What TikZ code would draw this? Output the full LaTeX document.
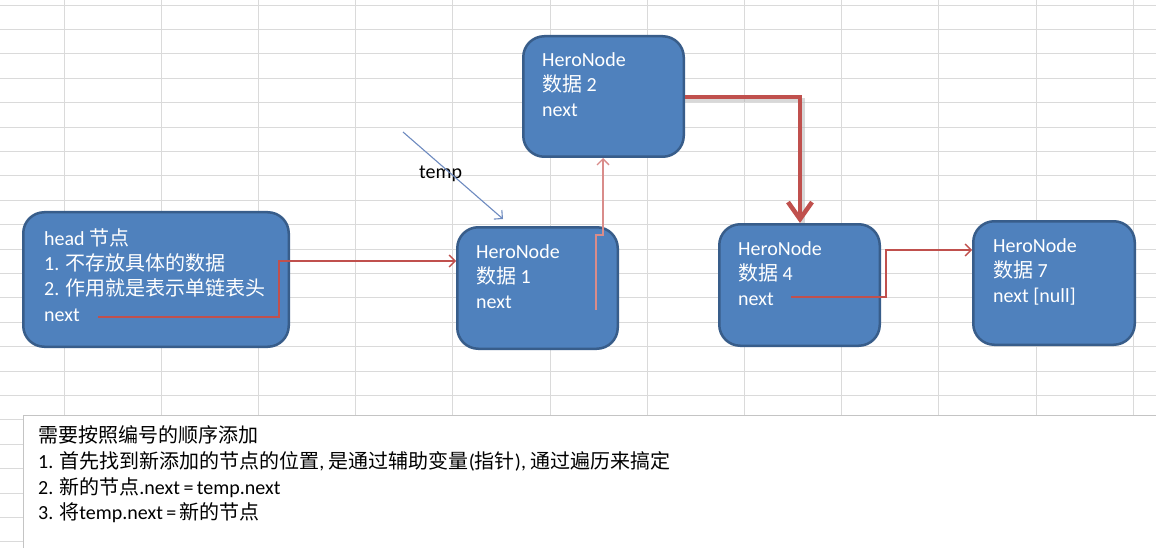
\documentclass[tikz,border=0pt]{standalone}
\usepackage{fontspec}
\setmainfont{Carlito}
\newfontfamily\cjk{Noto Sans CJK SC}
\usetikzlibrary{arrows.meta}
\definecolor{nodeblue}{HTML}{4F81BD}
\definecolor{nodeborder}{HTML}{385D8A}
\definecolor{linkred}{HTML}{C0504D}
\definecolor{linkpink}{HTML}{D98C8A}
\definecolor{gridgray}{HTML}{DADADA}
\definecolor{tempblue}{HTML}{6E8BC0}
\definecolor{boxgray}{HTML}{C4C4C4}
\newcommand{\eqsp}{\hspace{3.5pt}=\hspace{3.5pt}}
\begin{document}
\begin{tikzpicture}[x=1pt,y=-1pt,
  gridline/.style={draw=gridgray, line width=0.9pt},
  herobox/.style={draw=nodeborder, fill=nodeblue, line width=2.5pt, rounded corners=21pt, inner sep=0pt},
  ntext/.style={anchor=base west, inner sep=0pt, text=white, font=\fontsize{20}{25}\selectfont},
  btext/.style={anchor=base west, inner sep=0pt, text=black, font=\fontsize{20}{25}\selectfont},
  thinlink/.style={draw=linkred, line width=1.3pt, -{Straight Barb[length=6pt,width=12pt]}},
  pinklink/.style={draw=linkpink, line width=1.3pt, -{Straight Barb[length=6pt,width=12pt]}},
  thicklink/.style={draw=linkred, line width=4.5pt, line join=miter, -{Straight Barb[length=17pt,width=24pt]}},
  shadowline/.style={draw=black!30, opacity=0.5, line width=4.5pt, line join=miter},
  templink/.style={draw=tempblue, line width=1.1pt, -{Straight Barb[length=6pt,width=12pt]}},
  notebox/.style={draw=boxgray, fill=white, line width=1.2pt, inner sep=0pt, anchor=north west}
]
\useasboundingbox (0,0) rectangle (1156,548);
\fill[white] (0,0) rectangle (1156,548);
% spreadsheet grid
\foreach \k in {0,...,22} \draw[gridline] (0,{5+24.4*\k}) -- (1156,{5+24.4*\k});
\foreach \k in {0,...,11} \draw[gridline] ({64+97.2*\k},0) -- ({64+97.2*\k},548);
% note box at the bottom
\node[notebox, minimum width=1160pt, minimum height=160pt] (note) at (23,415) {};
% boxes
\node[herobox, minimum width=265.5pt, minimum height=134.5pt] (head) at (156,279.5) {};
\node[herobox, minimum width=160.5pt, minimum height=121.5pt] (n1) at (537.5,288) {};
\node[herobox, minimum width=160.5pt, minimum height=120.5pt] (n2) at (603.5,96.5) {};
\node[herobox, minimum width=160.5pt, minimum height=121.5pt] (n4) at (799.5,285) {};
\node[herobox, minimum width=161.5pt, minimum height=123.5pt] (n7) at (1054,283) {};
% texts of the head box
\node[ntext] (ht1) at (44,245) {head {\cjk 节点}};
\node[ntext] (ht2) at (44,270.3) {1. {\cjk 不存放具体的数据}};
\node[ntext] (ht3) at (44,295.6) {2. {\cjk 作用就是表示单链表头}};
\node[ntext] (ht4) at (44,321) {next};
% node 1
\node[ntext] (a1) at (476,258) {HeroNode};
\node[ntext] (a2) at (476,283) {{\cjk 数据} 1};
\node[ntext] (a3) at (476,308) {next};
% node 2
\node[ntext] (b1) at (542,67) {HeroNode};
\node[ntext] (b2) at (542,92) {{\cjk 数据} 2};
\node[ntext] (b3) at (542,117) {next};
% node 4
\node[ntext] (c1) at (738,255) {HeroNode};
\node[ntext] (c2) at (738,280) {{\cjk 数据} 4};
\node[ntext] (c3) at (738,305) {next};
% node 7
\node[ntext] (d1) at (993,252) {HeroNode};
\node[ntext] (d2) at (993,277) {{\cjk 数据} 7};
\node[ntext] (d3) at (993,302) {next [null]};
% temp label
\node[btext] (templabel) at (419,179) {temp};
% note texts
\node[btext] (l1) at (38,442) {{\cjk 需要按照编号的顺序添加}};
\node[btext] (l2) at (38,468) {1. {\cjk 首先找到新添加的节点的位置}, {\cjk 是通过辅助变量}({\cjk 指针}), {\cjk 通过遍历来搞定}};
\node[btext] (l3) at (38,494) {2. {\cjk 新的节点}.next\eqsp temp.next};
\node[btext] (l4) at (38,519) {3. {\cjk 将}temp.next\eqsp{\cjk 新的节点}};
% connectors
\coordinate (hs) at (98,317);
\coordinate (hb) at (279,261);
\draw[thinlink] (hs) -| (hb) -- (hb -| n1.west);
\coordinate (s1) at (596,310);
\coordinate (k1) at (596,235);
\coordinate (k2) at (603,235);
\draw[pinklink] (s1) -- (k1) -- (k2) -- (k2 |- n2.south);
\coordinate (k3) at (800,97);
\draw[shadowline] ([shift={(0,3)}]n2.east |- k3) -- ([shift={(3,3)}]k3) -- ([shift={(3,0)}]k3 |- n4.north) ;
\draw[thicklink] (n2.east |- k3) -- (k3) -- (k3 |- n4.north);
\coordinate (s4) at (791,297);
\coordinate (k4) at (886,250);
\draw[thinlink] (s4) -| (k4) -- (k4 -| n7.west);
\coordinate (ts) at (403,132);
\coordinate (te) at (503,219);
\draw[templink] (ts) -- (te);
\end{tikzpicture}
\end{document}
